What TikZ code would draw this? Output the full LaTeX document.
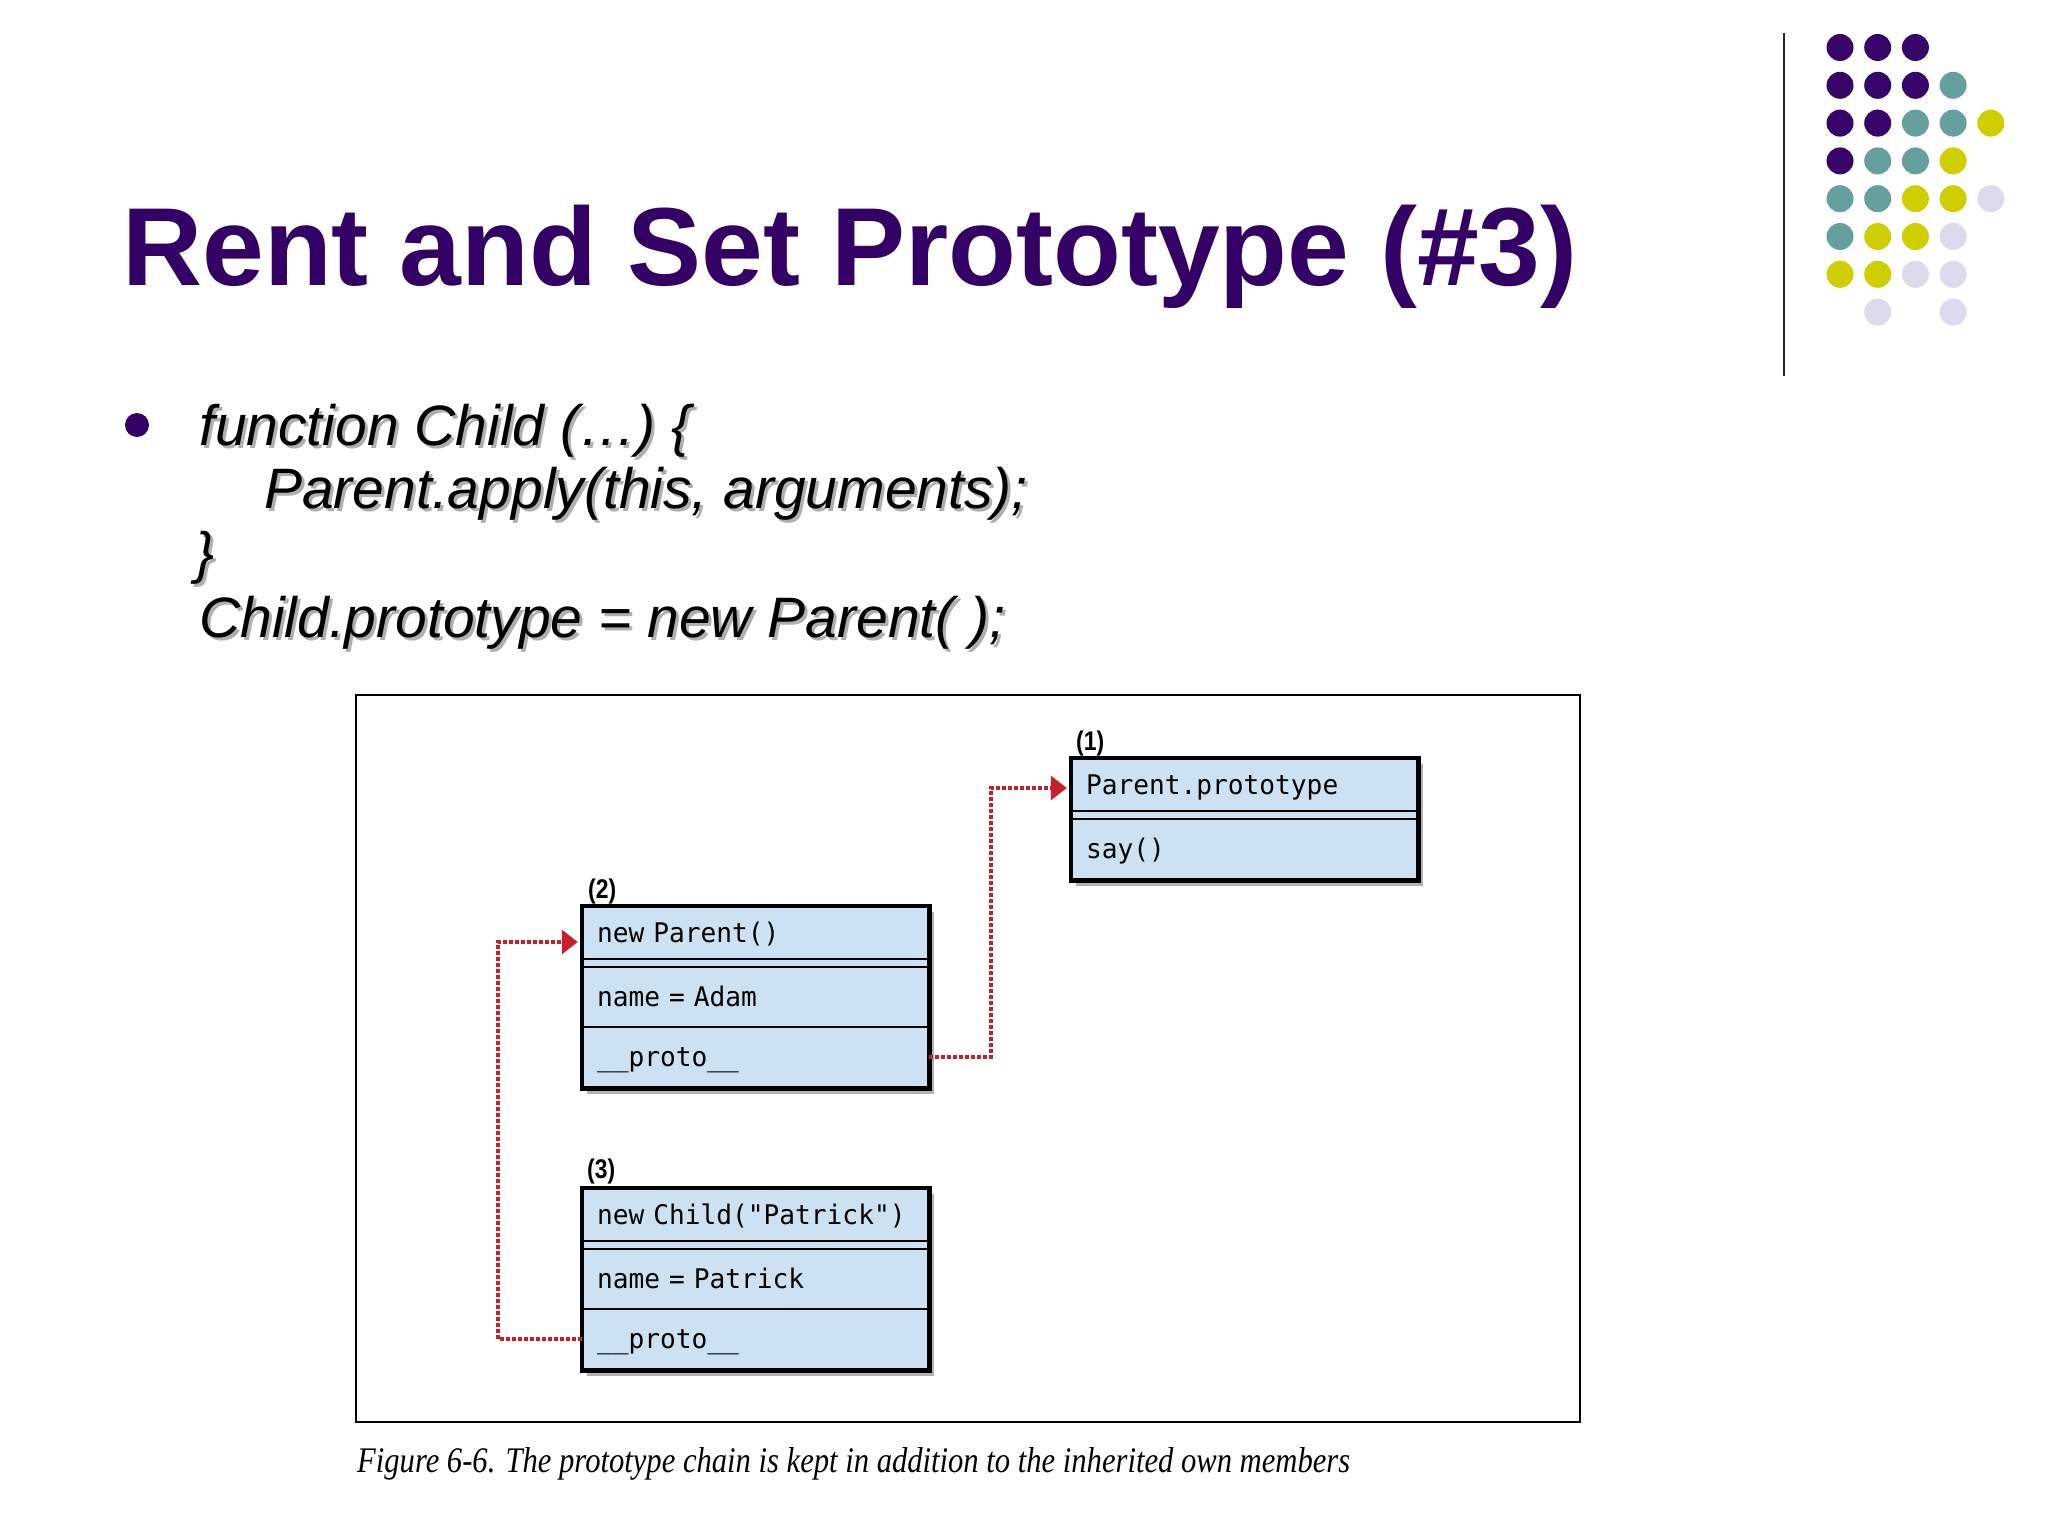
\documentclass[tikz,border=0pt]{standalone}
\usepackage{fontspec}
\setmainfont{Liberation Sans}
\newfontfamily\boxfont[FakeStretch=0.97]{DejaVu Sans Mono}
\newfontfamily\tagfont[FakeStretch=0.85]{Liberation Sans}
\newfontfamily\capfont[FakeStretch=0.85]{Liberation Serif}
\usepackage{tikz}
\usetikzlibrary{arrows.meta, shadows, backgrounds}
\definecolor{titlepurple}{RGB}{51,0,102}
\definecolor{dotP}{RGB}{55,5,105}
\definecolor{dotT}{RGB}{102,160,158}
\definecolor{dotY}{RGB}{206,206,0}
\definecolor{dotL}{RGB}{220,218,236}
\definecolor{boxblue}{RGB}{204,226,243}
\definecolor{linkred}{RGB}{200,32,42}
\definecolor{shadowgray}{RGB}{175,175,175}
\def\nodot{N}

\tikzset{
  slidetitle/.style={anchor=base west, inner sep=0pt, text=titlepurple,
    font=\fontsize{111}{130}\selectfont\bfseries},
  codeline/.style={anchor=base west, inner sep=0pt,
    font=\fontsize{57}{68}\selectfont\itshape},
  objrow/.style={rectangle, draw=black, line width=2.5pt, fill=boxblue,
    minimum width=345pt, text width=317pt, inner xsep=14pt, inner ysep=0pt,
    align=left, text height=22pt, text depth=4pt,
    font=\boxfont\fontsize{27}{32}\selectfont},
  objhead/.style={objrow, minimum height=52pt},
  objslot/.style={objrow, minimum height=60pt},
  objedge/.style={draw=black, line width=4.5pt},
  objback/.style={fill=boxblue, drop shadow={shadow xshift=5pt, shadow yshift=-6pt, opacity=0.3, fill=black}},
  tag/.style={anchor=base west, inner sep=0pt, font=\tagfont\fontsize{27}{30}\selectfont\bfseries},
  protolink/.style={draw=linkred, line width=3.5pt, dash pattern=on 4pt off 2pt,
    -{Triangle[length=16pt, width=24pt]}, shorten >=4pt},
  caption/.style={anchor=base west, inner sep=0pt,
    font=\capfont\itshape\fontsize{36}{40}\selectfont}
}

\begin{document}
\begin{tikzpicture}[x=1pt, y=-1pt]
\useasboundingbox (0,0) rectangle (2048,1536);
\begin{scope}[on background layer]
\fill[white] (0,0) rectangle (2048,1536);
\end{scope}

% title and code
\node[slidetitle] (title) at (122,285) {Rent and Set Prototype (\#3)};
\node[circle, fill=titlepurple, minimum size=24pt, inner sep=0pt] (bullet) at (137,425) {};
\foreach \n/\px/\py/\txt in {l1/199/445/{function Child (…) \{}, l2/264/508/{Parent.apply(this, arguments);}, l3/195/572/{\}}, l4/199/637/{Child.prototype = new Parent( );}} {
  \node[codeline, text=shadowgray] at (\px+3,\py+3) {\txt};
  \node[codeline] (\n) at (\px,\py) {\txt};
}

% logo dots
\draw[line width=2.5pt, black!85] (1784,33) -- (1784,376);
\foreach \pattern [count=\r] in {{P,P,P,N,N},{P,P,P,T,N},{P,P,T,T,Y},{P,T,T,Y,N},{T,T,Y,Y,L},{T,Y,Y,L,N},{Y,Y,L,L,N},{N,L,N,L,N}}
  \foreach \c [count=\k] in \pattern {
    \ifx\c\nodot\else
      \fill[dot\c] ({1840+37.7*(\k-1)},{47.5+37.8*(\r-1)}) circle (13.5);
    \fi
  }

% figure
\draw[line width=2pt] (356,695) rectangle (1580,1422);

\node[tag] (tag1) at (1076,750) {(1)};
\node[objhead] (pphdr) at (1244.5,785) {Parent.prototype};
\node[objslot] (ppsay) at (1244.5,849) {say()};

\node[tag] (tag2) at (588,898) {(2)};
\node[objhead] (parhdr) at (755.5,933) {new Parent()};
\node[objslot] (parname) at (755.5,997) {name = Adam};
\node[objslot] (parproto) at (755.5,1057) {\_\_proto\_\_};

\node[tag] (tag3) at (587,1178) {(3)};
\node[objhead] (chhdr) at (755.5,1215) {new Child("Patrick")};
\node[objslot] (chname) at (755.5,1279) {name = Patrick};
\node[objslot] (chproto) at (755.5,1339) {\_\_proto\_\_};

\begin{scope}[on background layer]
\path[objback] (pphdr.north west) rectangle (ppsay.south east);
\path[objback] (parhdr.north west) rectangle (parproto.south east);
\path[objback] (chhdr.north west) rectangle (chproto.south east);
\end{scope}
\draw[objedge] (pphdr.north west) rectangle (ppsay.south east);
\draw[objedge] (parhdr.north west) rectangle (parproto.south east);
\draw[objedge] (chhdr.north west) rectangle (chproto.south east);

\coordinate (up1) at (991,1057);
\coordinate (up2) at (498,1339);
\draw[protolink] (parproto.east) -- (up1) |- ([yshift=-3pt]pphdr.west);
\draw[protolink] (chproto.west) -- (up2) |- ([yshift=-9pt]parhdr.west);

\node[caption] (cap) at (357,1472) {Figure 6-6. The prototype chain is kept in addition to the inherited own members};
\end{tikzpicture}
\end{document}
